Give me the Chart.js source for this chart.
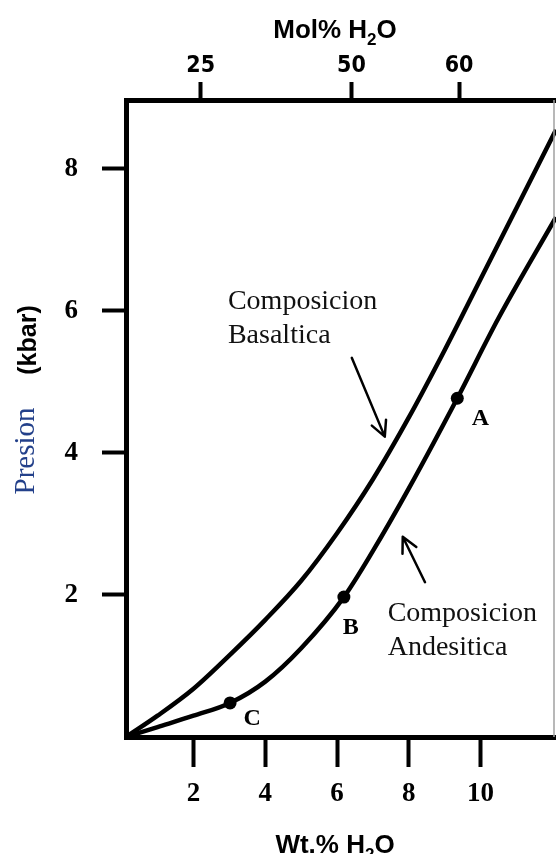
<!DOCTYPE html>
<html>
<head>
<meta charset="utf-8">
<script src="https://cdn.jsdelivr.net/npm/chart.js@4.4.1/dist/chart.umd.min.js"></script>
<style>
  html, body { margin: 0; padding: 0; background: #fff; }
</style>
</head>
<body>
<canvas id="grafico" width="556" height="854"></canvas>
<script>
// Curva de solubilidad, composicion basaltica (Wt.% H2O vs kbar)
const basaltoWt = [0.12, 1.0, 2.0, 3.0, 4.0, 5.0, 6.0, 7.0, 8.0, 9.0, 10.0, 11.0, 12.1];
const basaltoP = [0, 0.3, 0.68, 1.15, 1.65, 2.2, 2.87, 3.63, 4.5, 5.45, 6.45, 7.45, 8.55];

// Curva de solubilidad, composicion andesitica
const andesitaWt = [0.12, 1.0, 2.0, 3.02, 4.0, 5.0, 6.19, 7.0, 8.0, 9.35, 10.5, 12.1];
const andesitaP = [0, 0.14, 0.3, 0.48, 0.78, 1.25, 1.97, 2.62, 3.5, 4.77, 5.9, 7.32];

// Puntos marcados sobre la curva andesitica
const puntosNombre = ['A', 'B', 'C'];
const puntosWt = [9.35, 6.19, 3.02];
const puntosP = [4.77, 1.97, 0.48];

// Marcas de los ejes
const ticksWt = [2, 4, 6, 8, 10];
const ticksP = [2, 4, 6, 8];
const ticksMol = [25, 50, 60];
const molEnWt = [2.2, 6.4, 9.4]; // posicion de cada Mol% en la escala Wt.%

const a_xy = (xs, ys) => xs.map((v, i) => ({ x: v, y: ys[i] }));

// Notas y flechas (en unidades de los datos)
const notas = [
    { lineas: ['Composicion', 'Basaltica'], x: 2.96, y: 6.03 },
    { lineas: ['Composicion', 'Andesitica'], x: 7.41, y: 1.63 }
];
const flechas = [
    { desde: [6.41, 5.34], hasta: [7.33, 4.23] },
    { desde: [8.45, 2.18], hasta: [7.83, 2.82] }
];
const desfaseLetra = { A: [23, 21], B: [7, 31], C: [22, 16] };

const serif = "'Liberation Serif', 'Times New Roman', serif";
const sans = "'Liberation Sans', Arial, sans-serif";

function textoConSub(ctx, partes, cx, y, size, subSize) {
    let ancho = 0;
    partes.forEach(p => {
        ctx.font = 'bold ' + (p.sub ? subSize : size) + 'px ' + sans;
        ancho += ctx.measureText(p.t).width;
    });
    let x = cx - ancho / 2;
    partes.forEach(p => {
        ctx.font = 'bold ' + (p.sub ? subSize : size) + 'px ' + sans;
        ctx.fillText(p.t, x, p.sub ? y + 7 : y);
        x += ctx.measureText(p.t).width;
    });
}

const textos = {
    id: 'textos',
    afterDraw(chart) {
        const ctx = chart.ctx;
        const sx = chart.scales.x, sy = chart.scales.y;
        const area = chart.chartArea;
        ctx.save();

        // borde derecho, fino y gris
        ctx.strokeStyle = '#a0a0a0';
        ctx.lineWidth = 1.5;
        ctx.beginPath();
        ctx.moveTo(area.right - 2, area.top);
        ctx.lineTo(area.right - 2, area.bottom);
        ctx.stroke();

        ctx.fillStyle = '#000';
        ctx.textBaseline = 'alphabetic';
        ctx.textAlign = 'left';

        // titulos de los ejes horizontales
        textoConSub(ctx, [{ t: 'Mol% H' }, { t: '2', sub: true }, { t: 'O' }], 335, 38, 26, 17);
        textoConSub(ctx, [{ t: 'Wt.% H' }, { t: '2', sub: true }, { t: 'O' }], 335, 853, 26, 17);

        // titulo del eje vertical
        ctx.save();
        ctx.translate(34, 451);
        ctx.rotate(-Math.PI / 2);
        ctx.textAlign = 'center';
        ctx.fillStyle = '#23408a';
        ctx.font = '29px ' + serif;
        ctx.fillText('Presion', 0, 0);
        ctx.fillStyle = '#000';
        ctx.font = 'bold 25px ' + sans;
        ctx.fillText('(kbar)', 111, 2);
        ctx.restore();

        // notas
        ctx.fillStyle = '#111';
        ctx.font = '28px ' + serif;
        notas.forEach(n => {
            const px = sx.getPixelForValue(n.x);
            const py = sy.getPixelForValue(n.y);
            n.lineas.forEach((l, i) => ctx.fillText(l, px, py + i * 34));
        });

        // flechas
        ctx.strokeStyle = '#000';
        ctx.lineWidth = 2.5;
        ctx.lineCap = 'round';
        flechas.forEach(f => {
            const x1 = sx.getPixelForValue(f.desde[0]), y1 = sy.getPixelForValue(f.desde[1]);
            const x2 = sx.getPixelForValue(f.hasta[0]), y2 = sy.getPixelForValue(f.hasta[1]);
            const ang = Math.atan2(y2 - y1, x2 - x1);
            ctx.beginPath();
            ctx.moveTo(x1, y1);
            ctx.lineTo(x2, y2);
            [0.47, -0.47].forEach(d => {
                ctx.moveTo(x2, y2);
                ctx.lineTo(x2 - 17 * Math.cos(ang + d), y2 - 17 * Math.sin(ang + d));
            });
            ctx.stroke();
        });

        // letras de los puntos
        ctx.fillStyle = '#000';
        ctx.font = 'bold 24px ' + serif;
        ctx.textAlign = 'center';
        ctx.textBaseline = 'middle';
        puntosNombre.forEach((n, i) => {
            const d = desfaseLetra[n];
            ctx.fillText(n, sx.getPixelForValue(puntosWt[i]) + d[0], sy.getPixelForValue(puntosP[i]) + d[1]);
        });
        ctx.restore();
    }
};

const rejilla = (largo, grosor) => ({
    display: true, drawOnChartArea: false, drawTicks: true,
    tickLength: largo, tickWidth: grosor, tickColor: '#000'
});

new Chart(document.getElementById('grafico'), {
    type: 'scatter',
    data: {
        datasets: [
            {
                label: 'Composicion Basaltica',
                data: a_xy(basaltoWt, basaltoP),
                showLine: true, borderColor: '#000', borderWidth: 4.5,
                pointRadius: 0, cubicInterpolationMode: 'monotone'
            },
            {
                label: 'Composicion Andesitica',
                data: a_xy(andesitaWt, andesitaP),
                showLine: true, borderColor: '#000', borderWidth: 4.5,
                pointRadius: 0, cubicInterpolationMode: 'monotone'
            },
            {
                label: 'Puntos',
                data: a_xy(puntosWt, puntosP),
                showLine: false, pointRadius: 6.5,
                pointBackgroundColor: '#000', pointBorderColor: '#000', pointBorderWidth: 0
            }
        ]
    },
    options: {
        responsive: false,
        animation: false,
        devicePixelRatio: 1,
        layout: { autoPadding: false, padding: 0 },
        plugins: { legend: { display: false }, tooltip: { enabled: false } },
        scales: {
            x: {
                type: 'linear', position: 'bottom', min: 0.12, max: 12.1,
                afterBuildTicks: s => { s.ticks = ticksWt.map(v => ({ value: v })); },
                afterFit: s => { s.height = 117; },
                grid: rejilla(30, 4),
                border: { display: true, color: '#000', width: 5 },
                ticks: {
                    color: '#000', padding: 11, autoSkip: false, maxRotation: 0,
                    font: { family: serif, size: 27, weight: 'bold' }
                }
            },
            xMol: {
                type: 'linear', position: 'top', min: 0.12, max: 12.1,
                afterBuildTicks: s => { s.ticks = molEnWt.map(v => ({ value: v })); },
                afterFit: s => { s.height = 100; },
                grid: rejilla(18, 4),
                border: { display: true, color: '#000', width: 5 },
                ticks: {
                    color: '#000', padding: 2, autoSkip: false, maxRotation: 0,
                    callback: (v, i) => ticksMol[i],
                    font: { family: "'Liberation Sans Narrow', 'DejaVu Sans Condensed', sans-serif", size: 23, weight: 'bold' }
                }
            },
            y: {
                type: 'linear', position: 'left', min: 0, max: 8.97,
                afterBuildTicks: s => { s.ticks = ticksP.map(v => ({ value: v })); },
                afterFit: s => { s.width = 126; },
                grid: rejilla(24, 4),
                border: { display: true, color: '#000', width: 5 },
                ticks: {
                    color: '#000', padding: 24, autoSkip: false,
                    font: { family: serif, size: 27, weight: 'bold' }
                }
            }
        }
    },
    plugins: [textos]
});
</script>
</body>
</html>
